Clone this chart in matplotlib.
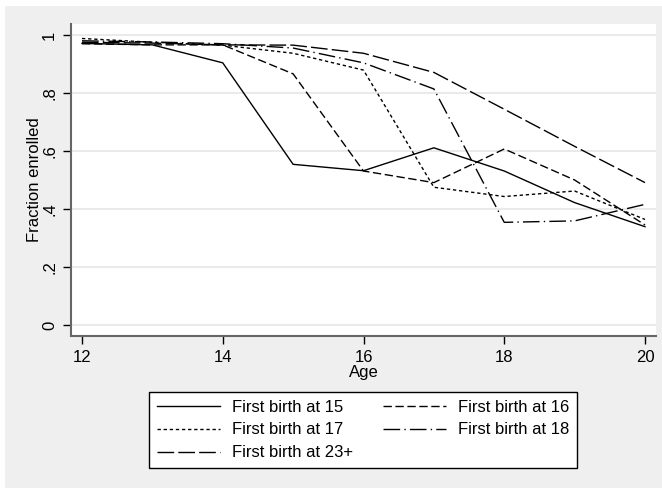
import matplotlib
matplotlib.use("Agg")
import matplotlib.pyplot as plt
from matplotlib.patches import Rectangle

plt.rcParams['font.family'] = ['Liberation Sans', 'DejaVu Sans']

ages = [12, 13, 14, 15, 16, 17, 18, 19, 20]
birth15 = [0.971, 0.966, 0.904, 0.554, 0.532, 0.611, 0.531, 0.422, 0.339]
birth16 = [0.970, 0.966, 0.966, 0.866, 0.531, 0.491, 0.607, 0.500, 0.345]
birth17 = [0.988, 0.975, 0.965, 0.937, 0.879, 0.475, 0.443, 0.462, 0.364]
birth18 = [0.980, 0.976, 0.970, 0.955, 0.904, 0.814, 0.354, 0.359, 0.416]
birth23 = [0.975, 0.972, 0.966, 0.965, 0.937, 0.871, 0.744, 0.616, 0.491]
labels = ["First birth at 15", "First birth at 16", "First birth at 17",
          "First birth at 18", "First birth at 23+"]
yticks = [0, 0.2, 0.4, 0.6, 0.8, 1.0]
ytick_labels = ["0", ".2", ".4", ".6", ".8", "1"]
xticks = [12, 14, 16, 18, 20]

W, H = 662, 488
fig = plt.figure(figsize=(W / 100, H / 100), dpi=100, facecolor='white')
bg = Rectangle((5 / W, 0), 1 - 5 / W, (H - 6) / H, transform=fig.transFigure,
               facecolor='#efefef', edgecolor='none', zorder=-10)
fig.patches.append(bg)

ax = fig.add_axes([71 / W, (H - 336) / H, 585 / W, 312 / H])
ax.set_facecolor('white')

styles = [
    dict(linestyle='-'),
    dict(linestyle=(0, (6, 2.6))),
    dict(linestyle=(0, (2.4, 2.0))),
    dict(linestyle=(0, (12, 3, 1, 3))),
    dict(linestyle=(0, (12, 3))),
]
series = [birth15, birth16, birth17, birth18, birth23]
handles = []
for s, st, lab in zip(series, styles, labels):
    h, = ax.plot(ages, s, color='black', linewidth=1.0, label=lab, **st)
    handles.append(h)

ax.set_xlim(12 - 11 / 70.375, 20 + 11 / 70.375)
ax.set_ylim(-11 / 290, 1 + 11 / 290)
ax.set_yticks(yticks)
ax.set_yticklabels(ytick_labels, rotation=90, va='center')
ax.set_xticks(xticks)
ax.set_xticklabels([str(x) for x in xticks])
ax.tick_params(axis='both', labelsize=12, length=6, width=1.0, color='black')
ax.tick_params(axis='y', pad=4)
ax.tick_params(axis='x', pad=4)
ax.grid(axis='y', color='#e6e6e6', linewidth=1.2)
ax.set_axisbelow(True)
for sp in ['top', 'right']:
    ax.spines[sp].set_visible(False)
for sp in ['left', 'bottom']:
    ax.spines[sp].set_color('#666666')
    ax.spines[sp].set_linewidth(1.5)

ax.set_xlabel("Age", fontsize=12, labelpad=0)
ax.set_ylabel("Fraction enrolled", fontsize=12, labelpad=0)

# legend order: row-wise (15,16 / 17,18 / 23+)
leg = fig.legend(handles=[handles[0], handles[2], handles[4], handles[1], handles[3]],
                 labels=[labels[0], labels[2], labels[4], labels[1], labels[3]],
                 ncol=2, loc='center', bbox_to_anchor=(363 / W, 1 - 430 / H),
                 fontsize=12, frameon=True, fancybox=False, handlelength=3.8,
                 handletextpad=0.7, columnspacing=1.8, labelspacing=0.47,
                 borderpad=0.45)
leg.get_frame().set_edgecolor('black')
leg.get_frame().set_linewidth(1.0)
leg.get_frame().set_facecolor('white')
leg.get_frame().set_alpha(1)

fig.savefig("out.png", dpi=100, facecolor=fig.get_facecolor())
